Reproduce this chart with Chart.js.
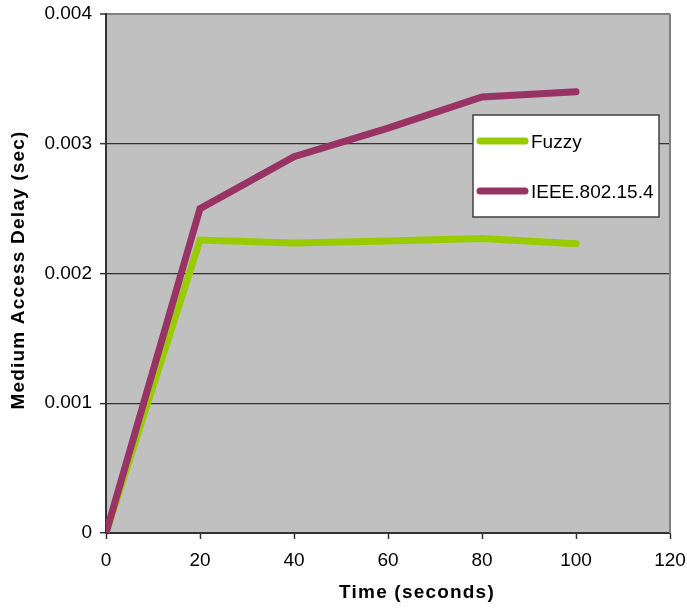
<!DOCTYPE html>
<html>
<head>
<meta charset="utf-8">
<script src="https://cdn.jsdelivr.net/npm/chart.js@4/dist/chart.umd.min.js"></script>
<style>
  html, body { margin: 0; padding: 0; background: #ffffff; }
  #wrap { width: 687px; height: 610px; position: relative; }
</style>
</head>
<body>
<div id="wrap"><canvas id="chart"></canvas></div>
<script>
// Simulation time (seconds)
const times = [0, 20, 40, 60, 80, 100];

// Medium access delay (sec) per protocol
const fuzzyDelay = [0, 0.002258, 0.002235, 0.00225, 0.00227, 0.00223];
const ieeeDelay  = [0, 0.0025, 0.0029, 0.00312, 0.00336, 0.0034];

const seriesNames = ['Fuzzy', 'IEEE.802.15.4'];
const seriesColors = ['#99CC00', '#993366'];

const xTitle = 'Time (seconds)';
const yTitle = 'Medium Access Delay (sec)';

const toPoints = (xs, ys) => xs.map((x, i) => ({ x: x, y: ys[i] }));

// Grey plot area with a thin frame on the right
const plotArea = {
  id: 'plotArea',
  beforeDraw(chart) {
    const { ctx, chartArea: a } = chart;
    ctx.save();
    ctx.fillStyle = '#C0C0C0';
    ctx.fillRect(a.left, a.top, a.right - a.left, a.bottom - a.top);
    ctx.restore();
  },
  beforeDatasetsDraw(chart) {
    const { ctx, chartArea: a } = chart;
    ctx.save();
    ctx.strokeStyle = '#808080';
    ctx.lineWidth = 2;
    ctx.beginPath();
    ctx.moveTo(a.right, a.top);
    ctx.lineTo(a.right, a.bottom);
    ctx.stroke();
    ctx.restore();
  }
};

// Axis titles, centred a little off the plot area
const axisTitles = {
  id: 'axisTitles',
  afterDraw(chart) {
    const { ctx } = chart;
    ctx.save();
    ctx.fillStyle = '#000000';
    ctx.font = 'bold 19px "Liberation Sans", Arial, sans-serif';
    ctx.letterSpacing = '1.2px';
    ctx.textAlign = 'center';
    ctx.textBaseline = 'alphabetic';
    ctx.fillText(xTitle, 417, 598);
    ctx.translate(24, 270);
    ctx.rotate(-Math.PI / 2);
    ctx.fillText(yTitle, 0, 0);
    ctx.restore();
  }
};

// Boxed legend inside the plot area
const boxLegend = {
  id: 'boxLegend',
  afterDatasetsDraw(chart) {
    const { ctx } = chart;
    const box = { x: 473, y: 115, w: 186, h: 102 };
    ctx.save();
    ctx.fillStyle = '#ffffff';
    ctx.fillRect(box.x, box.y, box.w, box.h);
    ctx.strokeStyle = '#404040';
    ctx.lineWidth = 1.5;
    ctx.strokeRect(box.x, box.y, box.w, box.h);
    ctx.font = '19px "Liberation Sans", Arial, sans-serif';
    ctx.textAlign = 'left';
    ctx.textBaseline = 'alphabetic';
    const rows = [141, 191];
    chart.data.datasets.forEach((ds, i) => {
      const y = rows[i];
      ctx.strokeStyle = ds.borderColor;
      ctx.lineWidth = 7;
      ctx.lineCap = 'round';
      ctx.beginPath();
      ctx.moveTo(480, y);
      ctx.lineTo(525, y);
      ctx.stroke();
      ctx.fillStyle = '#000000';
      ctx.fillText(ds.label, 531, y + 7);
    });
    ctx.restore();
  }
};

const lineStyle = {
  borderWidth: 7,
  pointRadius: 0,
  tension: 0,
  borderJoinStyle: 'miter',
  borderCapStyle: 'round',
  fill: false
};

new Chart(document.getElementById('chart'), {
  type: 'line',
  data: {
    datasets: [
      Object.assign({
        label: seriesNames[0],
        data: toPoints(times, fuzzyDelay),
        borderColor: seriesColors[0],
        backgroundColor: seriesColors[0],
        order: 1
      }, lineStyle),
      Object.assign({
        label: seriesNames[1],
        data: toPoints(times, ieeeDelay),
        borderColor: seriesColors[1],
        backgroundColor: seriesColors[1],
        order: 0
      }, lineStyle)
    ]
  },
  options: {
    responsive: true,
    maintainAspectRatio: false,
    animation: false,
    events: [],
    layout: { padding: { top: 14, right: 17, left: 0, bottom: 0 } },
    plugins: {
      legend: { display: false },
      title: { display: false },
      tooltip: { enabled: false }
    },
    scales: {
      x: {
        type: 'linear',
        min: 0,
        max: 120,
        afterFit(scale) {
          scale.height = 77;
          scale.paddingLeft = 0;
          scale.paddingRight = 0;
        },
        ticks: {
          stepSize: 20,
          color: '#000000',
          padding: 10,
          font: { family: '"Liberation Sans", Arial, sans-serif', size: 19 }
        },
        grid: {
          drawOnChartArea: false,
          drawTicks: true,
          tickLength: 6,
          tickColor: '#333333',
          tickWidth: 1.5
        },
        border: { display: true, color: '#333333', width: 2 }
      },
      y: {
        min: 0,
        max: 0.004,
        afterFit(scale) {
          scale.width = 106;
          scale.paddingTop = 0;
          scale.paddingBottom = 0;
        },
        ticks: {
          stepSize: 0.001,
          color: '#000000',
          padding: 8,
          font: { family: '"Liberation Sans", Arial, sans-serif', size: 19 },
          callback: (v) => (v === 0 ? '0' : v.toFixed(3))
        },
        grid: {
          color: (c) => (c.tick && c.tick.value >= 0.004 ? '#808080' : '#333333'),
          lineWidth: (c) => (c.tick && c.tick.value >= 0.004 ? 2 : 1.3),
          tickColor: '#333333',
          tickLength: 6,
          tickWidth: 1.5
        },
        border: { display: true, color: '#333333', width: 2 }
      }
    }
  },
  plugins: [plotArea, axisTitles, boxLegend]
});
</script>
</body>
</html>
